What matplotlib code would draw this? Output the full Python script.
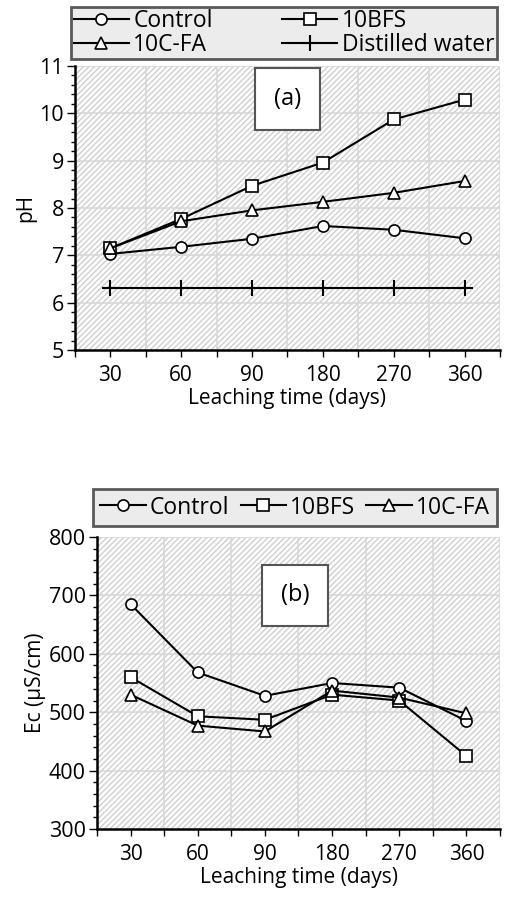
import matplotlib
matplotlib.use("Agg")
import matplotlib.pyplot as plt
from matplotlib.ticker import MultipleLocator
import numpy as np

plt.rcParams['font.family'] = ['Open Sans', 'DejaVu Sans']

days = ["30", "60", "90", "180", "270", "360"]
ph_control = [7.03, 7.18, 7.35, 7.62, 7.54, 7.36]
ph_bfs = [7.15, 7.77, 8.47, 8.96, 9.87, 10.29]
ph_cfa = [7.15, 7.72, 7.95, 8.13, 8.32, 8.57]
ph_water = [6.3, 6.3, 6.3, 6.3, 6.3, 6.3]
ec_control = [685, 568, 528, 550, 542, 485]
ec_bfs = [560, 493, 487, 530, 520, 425]
ec_cfa = [530, 477, 467, 537, 525, 498]

W, H = 508, 899
fig = plt.figure(figsize=(W/100, H/100), dpi=100)

def ax_at(x0, y0, x1, y1):
    return fig.add_axes([x0/W, 1-y1/H, (x1-x0)/W, (y1-y0)/H])

def style(ax, ylo, yhi, ystep, yminor, ylabel):
    x = np.arange(len(days))
    ax.set_xlim(-0.5, len(days)-0.5)
    ax.set_ylim(ylo, yhi)
    ax.patch.set_facecolor('white')
    ax.add_patch(plt.Rectangle((0, 0), 1, 1, transform=ax.transAxes, facecolor='none',
                               edgecolor='#cfcfcf', hatch='//////', lw=0, zorder=0))
    for b in np.arange(0.5, len(days), 1):
        ax.axvline(b, color='#d8d8d8', lw=1.2, zorder=1)
    for yv in np.arange(ylo+ystep, yhi+0.001, ystep):
        ax.axhline(yv, color='#d8d8d8', lw=1.2, zorder=1)
    ax.set_xticks(x)
    ax.set_xticklabels(days, fontsize=15)
    ax.set_xticks(np.arange(-0.5, len(days), 1), minor=True)
    ax.tick_params(axis='x', which='minor', length=5, width=1, direction='out')
    ax.tick_params(axis='x', which='major', length=5, width=1, direction='out', pad=6)
    ax.yaxis.set_major_locator(MultipleLocator(ystep))
    ax.yaxis.set_minor_locator(MultipleLocator(yminor))
    ax.tick_params(axis='y', which='major', length=6, width=1, direction='out', labelsize=15.5, pad=2)
    ax.tick_params(axis='y', which='minor', length=3, width=1, direction='out')
    for s in ['top', 'right']:
        ax.spines[s].set_visible(False)
    ax.spines['left'].set_linewidth(1.8)
    ax.spines['bottom'].set_linewidth(1.8)
    ax.set_ylabel(ylabel, fontsize=15, labelpad=2)
    ax.set_xlabel("Leaching time (days)", fontsize=15, labelpad=1)
    return x

mk = dict(color='black', lw=1.5, ms=8, mfc='white', mec='black', mew=1.2, zorder=3)

def framed(leg):
    leg.get_frame().set_facecolor('#e8e8e8')
    leg.get_frame().set_linewidth(2)
    leg.get_frame().set_edgecolor('#333333')

ax1 = ax_at(75, 66, 500, 350)
x = style(ax1, 5, 11, 1, 0.2, "pH")
l1, = ax1.plot(x, ph_control, marker='o', label='Control', **mk)
l2, = ax1.plot(x, ph_bfs, marker='s', label='10BFS', **mk)
l3, = ax1.plot(x, ph_cfa, marker='^', label='10C-FA', **mk)
l4, = ax1.plot(x, ph_water, marker='+', label='Distilled water', color='black', lw=1.5, ms=11, mew=1.5, zorder=3)
ax1.text(2.5, 10.3, "(a)", fontsize=17, ha='center', va='center',
         bbox=dict(boxstyle='square,pad=0.8', fc='white', ec='#555555', lw=1.5), zorder=4)
leg1 = fig.legend(handles=[l1, l3, l2, l4], ncol=2, loc='center',
                  bbox_to_anchor=(60/W, 1-61/H, 448/W, 56/H), mode='expand',
                  fontsize=16.5, frameon=True, fancybox=False,
                  handlelength=2.4, borderpad=0.1, labelspacing=0.0, handletextpad=0.2,
                  columnspacing=0.5)
framed(leg1)

ax2 = ax_at(97, 537, 500, 829)
x = style(ax2, 300, 800, 100, 20, "Ec (µS/cm)")
m1, = ax2.plot(x, ec_control, marker='o', label='Control', **mk)
m2, = ax2.plot(x, ec_bfs, marker='s', label='10BFS', **mk)
m3, = ax2.plot(x, ec_cfa, marker='^', label='10C-FA', **mk)
ax2.text(2.45, 700, "(b)", fontsize=17, ha='center', va='center',
         bbox=dict(boxstyle='square,pad=0.8', fc='white', ec='#555555', lw=1.5), zorder=4)
leg2 = fig.legend(handles=[m1, m2, m3], ncol=3, loc='center',
                  bbox_to_anchor=(82/W, 1-530/H, 426/W, 45/H), mode='expand',
                  fontsize=16.5, frameon=True, fancybox=False,
                  handlelength=2.0, borderpad=0.3, handletextpad=0.15, columnspacing=0.3)
framed(leg2)

fig.savefig("out.png", dpi=100)
